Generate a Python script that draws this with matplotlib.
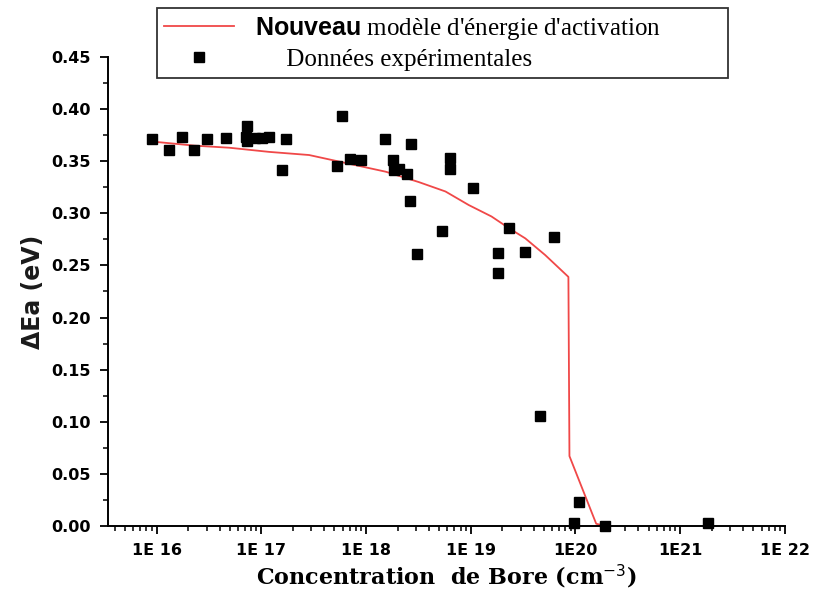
import numpy as np
import matplotlib
matplotlib.use("Agg")
import matplotlib.pyplot as plt
from matplotlib.ticker import FixedLocator, LogLocator, MultipleLocator, NullFormatter

# Boron concentration (cm^-3) and activation energy (eV)
model_conc = [8.95e15, 2.30e16, 4.95e16, 1.19e17, 2.86e17, 7.36e17, 1.54e18,
              3.20e18, 5.74e18, 9.57e18, 1.58e19, 2.30e19, 3.32e19, 5.14e19,
              8.57e19, 8.77e19, 1.58e20, 1.93e20]
model_ea = [0.369, 0.365, 0.363, 0.359, 0.356, 0.347, 0.340, 0.330, 0.321,
            0.308, 0.297, 0.286, 0.276, 0.260, 0.239, 0.067, 0.002, 0.0]

exp_conc = [8.95e15, 1.31e16, 1.76e16, 2.30e16, 3.01e16, 4.61e16, 7.24e16,
            7.19e16, 7.30e16, 8.77e16, 1.02e17, 1.19e17, 1.74e17, 1.57e17,
            5.33e17, 5.87e17, 7.05e17, 8.91e17, 1.51e18, 1.81e18, 1.85e18,
            2.06e18, 2.47e18, 2.72e18, 2.61e18, 3.04e18, 5.33e18, 6.31e18,
            6.31e18, 1.05e19, 1.82e19, 1.82e19, 2.30e19, 3.27e19, 6.27e19,
            4.61e19, 1.09e20, 9.77e19, 1.93e20, 1.85e21]
exp_ea = [0.371, 0.361, 0.373, 0.361, 0.371, 0.372, 0.384, 0.373, 0.369,
          0.372, 0.372, 0.373, 0.371, 0.342, 0.345, 0.393, 0.352, 0.351,
          0.371, 0.351, 0.342, 0.343, 0.338, 0.367, 0.312, 0.261, 0.283,
          0.353, 0.343, 0.324, 0.262, 0.243, 0.286, 0.263, 0.277, 0.105,
          0.023, 0.003, 0.0, 0.003]

x_ticks = [1e16, 1e17, 1e18, 1e19, 1e20, 1e21, 1e22]
x_tick_labels = ["1E 16", "1E 17", "1E 18", "1E 19", "1E20", "1E21", "1E 22"]

plt.rcParams['mathtext.fontset'] = 'custom'
plt.rcParams['mathtext.sf'] = 'Liberation Sans:bold'

fig = plt.figure(figsize=(8.15, 6.01), dpi=100)
ax = fig.add_axes([0.133, 0.125, 0.830, 0.780])

ax.plot(model_conc, model_ea, color='#f04848', linewidth=1.3,
        label=r"$\mathsf{Nouveau}$ modèle d'énergie d'activation")
ax.plot(exp_conc, exp_ea, linestyle='none', marker='s', markersize=6.6,
        color='black', clip_on=False, zorder=3,
        label="     Données expérimentales")

ax.set_xscale('log')
ax.set_xlim(10 ** 15.54, 1e22)
ax.set_ylim(0, 0.45)

for side in ['top', 'right']:
    ax.spines[side].set_visible(False)
for side in ['left', 'bottom']:
    ax.spines[side].set_linewidth(1.4)

ax.xaxis.set_major_locator(FixedLocator(x_ticks))
ax.set_xticklabels(x_tick_labels)
ax.xaxis.set_minor_locator(LogLocator(base=10, subs=np.arange(2, 10), numticks=20))
ax.xaxis.set_minor_formatter(NullFormatter())
ax.yaxis.set_major_locator(MultipleLocator(0.05))
ax.yaxis.set_minor_locator(MultipleLocator(0.025))
ax.yaxis.set_major_formatter(plt.FuncFormatter(lambda v, p: f"{v:.2f}"))

ax.tick_params(which='major', direction='out', length=6, width=1.3,
               labelsize=11.5)
ax.tick_params(axis='y', which='major', pad=7)
ax.tick_params(axis='x', which='major', pad=6)
ax.tick_params(which='minor', direction='out', length=3.5, width=1.1)
for lab in ax.get_xticklabels() + ax.get_yticklabels():
    lab.set_fontweight('bold')
    lab.set_family('DejaVu Sans')

ax.set_ylabel('ΔEa (eV)', fontsize=17, fontweight='bold',
              family='DejaVu Sans', color='#1a1a1a', labelpad=4)
ax.set_xlabel('Concentration  de Bore (cm$^{-3}$)', fontsize=16,
              fontweight='bold', family='DejaVu Serif', labelpad=4)

leg = ax.legend(loc='upper left', mode='expand',
                bbox_to_anchor=(157 / 815, 525 / 601, 571 / 815, 68 / 601),
                bbox_transform=fig.transFigure, borderaxespad=0,
                fancybox=False, edgecolor='#333333', framealpha=1,
                prop={'family': 'Liberation Serif', 'size': 18},
                handlelength=2.8, handletextpad=0.85, labelspacing=0.25,
                borderpad=0.28)
leg.get_frame().set_linewidth(1.3)

fig.savefig('out.png', dpi=100)
